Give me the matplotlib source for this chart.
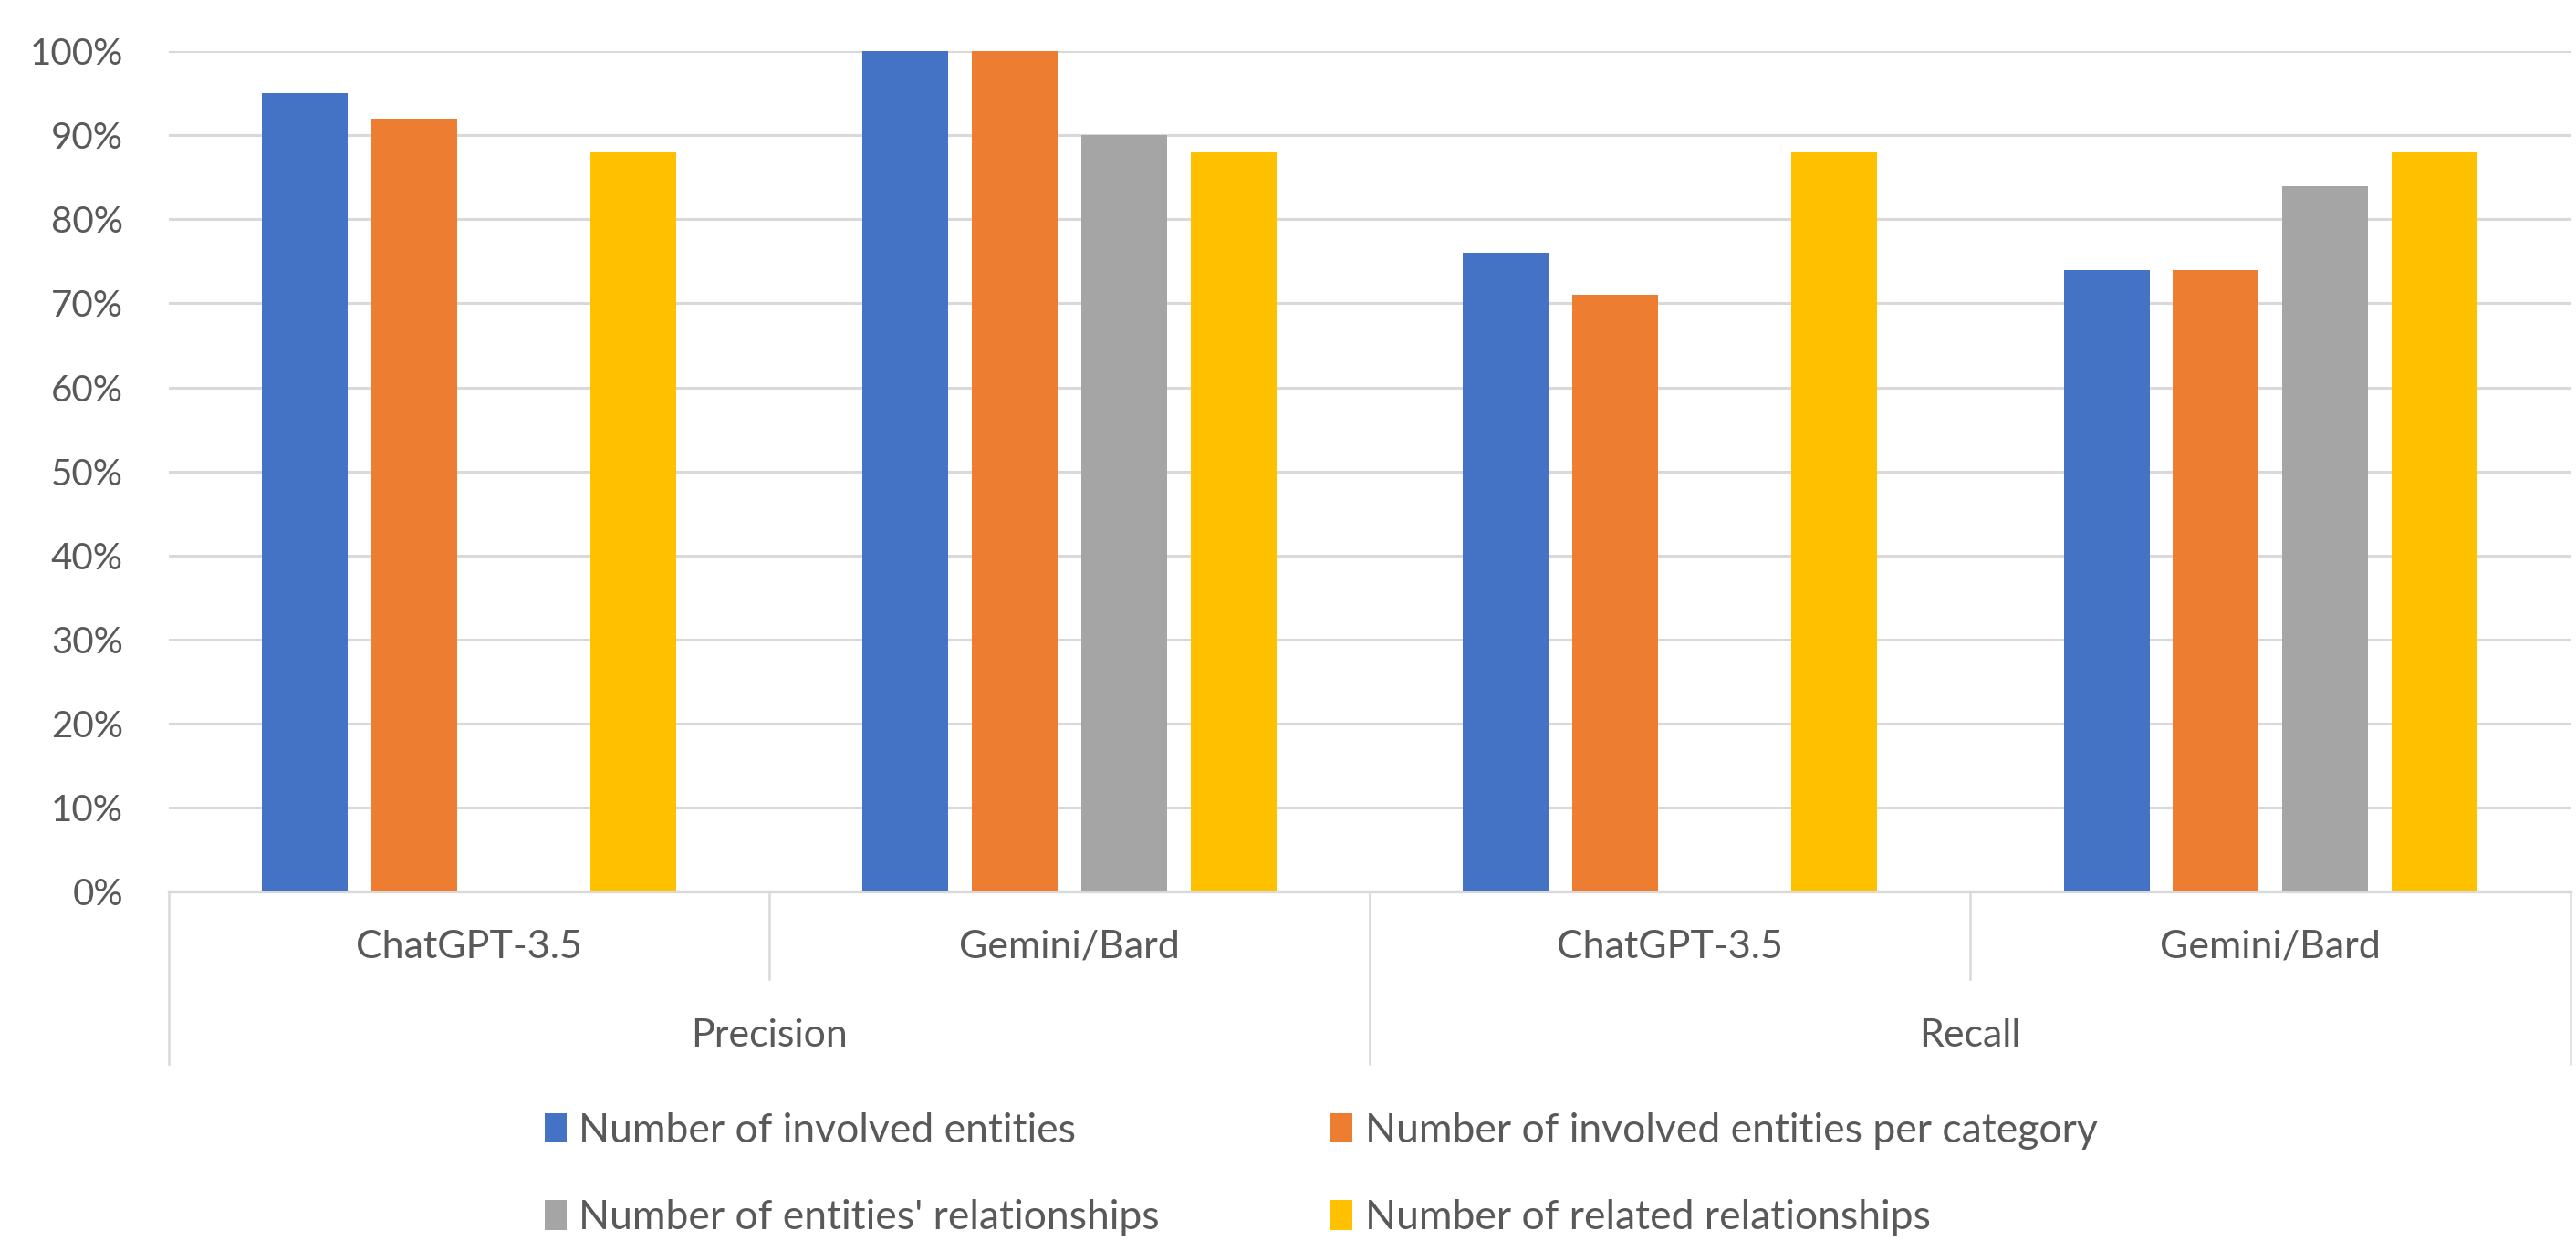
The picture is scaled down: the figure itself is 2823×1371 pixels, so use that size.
import numpy as np
import matplotlib.pyplot as plt
from matplotlib.patches import Patch
from matplotlib.ticker import PercentFormatter

# data (percent)
metrics = ["Precision", "Recall"]
models = ["ChatGPT-3.5", "Gemini/Bard", "ChatGPT-3.5", "Gemini/Bard"]
series_names = [
    "Number of involved entities",
    "Number of involved entities per category",
    "Number of entities' relationships",
    "Number of related relationships",
]
involved_entities = [95, 100, 76, 74]
involved_per_category = [92, 100, 71, 74]
entities_relationships = [0, 90, 0, 84]
related_relationships = [88, 88, 88, 88]

colors = ["#4472C4", "#ED7D31", "#A5A5A5", "#FFC000"]
text_color = "#595959"
grid_color = "#D9D9D9"

plt.rcParams["font.family"] = ["Lato", "DejaVu Sans"]
fs = 29

fig = plt.figure(figsize=(28.23, 13.71), dpi=100)
ax = fig.add_axes([0.0655, 0.2874, 0.9325, 0.6716])

series = [involved_entities, involved_per_category, entities_relationships, related_relationships]
x = np.arange(len(models))
step = 0.182
width = 0.143
for i, vals in enumerate(series):
    ax.bar(x + (i - 1.5) * step, vals, width, color=colors[i], zorder=3)

ax.set_xlim(-0.5, len(models) - 0.5)
ax.set_ylim(0, 100)
ax.set_yticks(np.arange(0, 101, 10))
ax.yaxis.set_major_formatter(PercentFormatter(decimals=0))
ax.tick_params(axis="y", length=0, pad=36, labelsize=fs, labelcolor=text_color)
ax.set_xticks([])
ax.grid(axis="y", color=grid_color, linewidth=2.2, zorder=0)
for s in ["left", "right", "top"]:
    ax.spines[s].set_visible(False)
ax.spines["bottom"].set_color(grid_color)
ax.spines["bottom"].set_linewidth(2.4)

# two-level category axis
trans = ax.get_xaxis_transform()
for b in [0.5, 2.5]:
    ax.plot([b, b], [0, -0.1042], transform=trans, color=grid_color, lw=1.8, clip_on=False)
for b in [-0.5, 1.5, 3.5]:
    ax.plot([b, b], [0, -0.2052], transform=trans, color=grid_color, lw=1.8, clip_on=False)
for xi, m in zip(x, models):
    ax.text(xi, -0.0662, m, transform=trans, ha="center", va="center",
            fontsize=31, color=text_color)
for j, m in enumerate(metrics):
    ax.text(2 * j + 0.5, -0.1716, m, transform=trans, ha="center", va="center",
            fontsize=31, color=text_color)

# legend: row 1 blue/orange, row 2 gray/yellow
order = [0, 2, 1, 3]
handles = [Patch(facecolor=colors[k]) for k in order]
labels = [series_names[k] for k in order]
leg = fig.legend(handles, labels, ncol=2, loc="center left",
                 bbox_to_anchor=(0.2035, 0.0615), frameon=False,
                 fontsize=32, labelcolor=text_color,
                 handlelength=0.55, handleheight=0.75, handletextpad=0.3,
                 columnspacing=4.2, labelspacing=1.22, borderpad=0)

fig.savefig("out.png", dpi=100)
